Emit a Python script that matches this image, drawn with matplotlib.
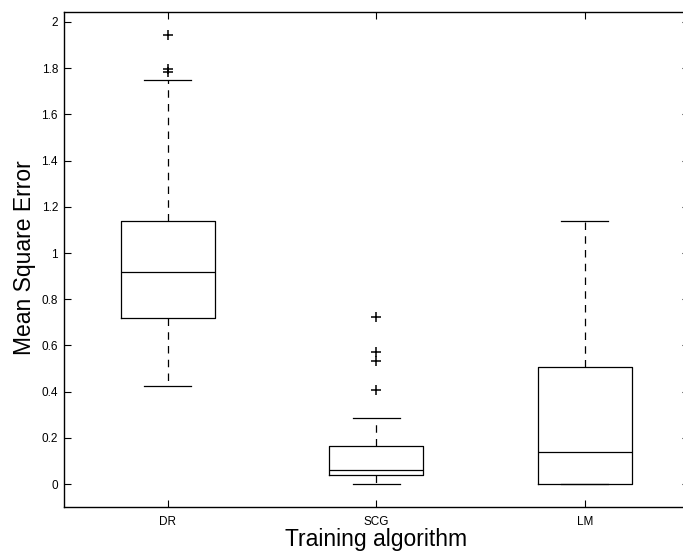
import matplotlib
matplotlib.use("Agg")
import matplotlib.pyplot as plt

plt.rcParams['font.family'] = ['Liberation Sans', 'DejaVu Sans']

# box summary per training algorithm
algorithms = ['DR', 'SCG', 'LM']
whisker_low = [0.425, 0.0, 0.0]
quartile_1 = [0.72, 0.039, 0.0]
medians = [0.919, 0.061, 0.140]
quartile_3 = [1.138, 0.166, 0.508]
whisker_high = [1.748, 0.287, 1.140]
outliers = [
    [1.785, 1.795, 1.945],
    [0.407, 0.532, 0.570, 0.724],
    [],
]

yticks = [0, 0.2, 0.4, 0.6, 0.8, 1, 1.2, 1.4, 1.6, 1.8, 2]
ytick_labels = ['0', '0.2', '0.4', '0.6', '0.8', '1', '1.2', '1.4', '1.6', '1.8', '2']

stats = []
for i in range(len(algorithms)):
    stats.append(dict(label=algorithms[i], whislo=whisker_low[i], q1=quartile_1[i],
                      med=medians[i], q3=quartile_3[i], whishi=whisker_high[i],
                      fliers=outliers[i]))

fig = plt.figure(figsize=(6.83, 5.53), dpi=100)
ax = fig.add_axes([0.093, 0.0837, 0.916, 0.8945])

lw = 0.9
ax.bxp(stats, positions=[1, 2, 3], widths=0.45,
       boxprops=dict(color='black', linewidth=lw),
       medianprops=dict(color='black', linewidth=lw),
       whiskerprops=dict(color='black', linewidth=lw, linestyle=(0, (6, 5))),
       capprops=dict(color='black', linewidth=lw),
       flierprops=dict(marker='+', markeredgecolor='black', markersize=7,
                       markeredgewidth=1.1, linestyle='none'),
       capwidths=0.225)

ax.set_xlim(0.5, 3.5)
ax.set_ylim(-0.098, 2.043)
ax.set_yticks(yticks)
ax.set_yticklabels(ytick_labels)
ax.set_xticks([1, 2, 3])
ax.set_xticklabels(algorithms)

ax.tick_params(direction='in', length=5, width=0.8, top=True, right=True,
               labelsize=8.5, pad=4, colors='black')
ax.tick_params(axis='x', pad=7)
for s in ax.spines.values():
    s.set_linewidth(1.0)
    s.set_color('black')

ax.set_ylabel('Mean Square Error', fontsize=16.5)
ax.set_xlabel('Training algorithm', fontsize=16.5)
ax.yaxis.set_label_coords(-0.044, 0.504)
ax.xaxis.set_label_coords(0.5, -0.044)

fig.savefig('out.png', dpi=100, facecolor='white')
